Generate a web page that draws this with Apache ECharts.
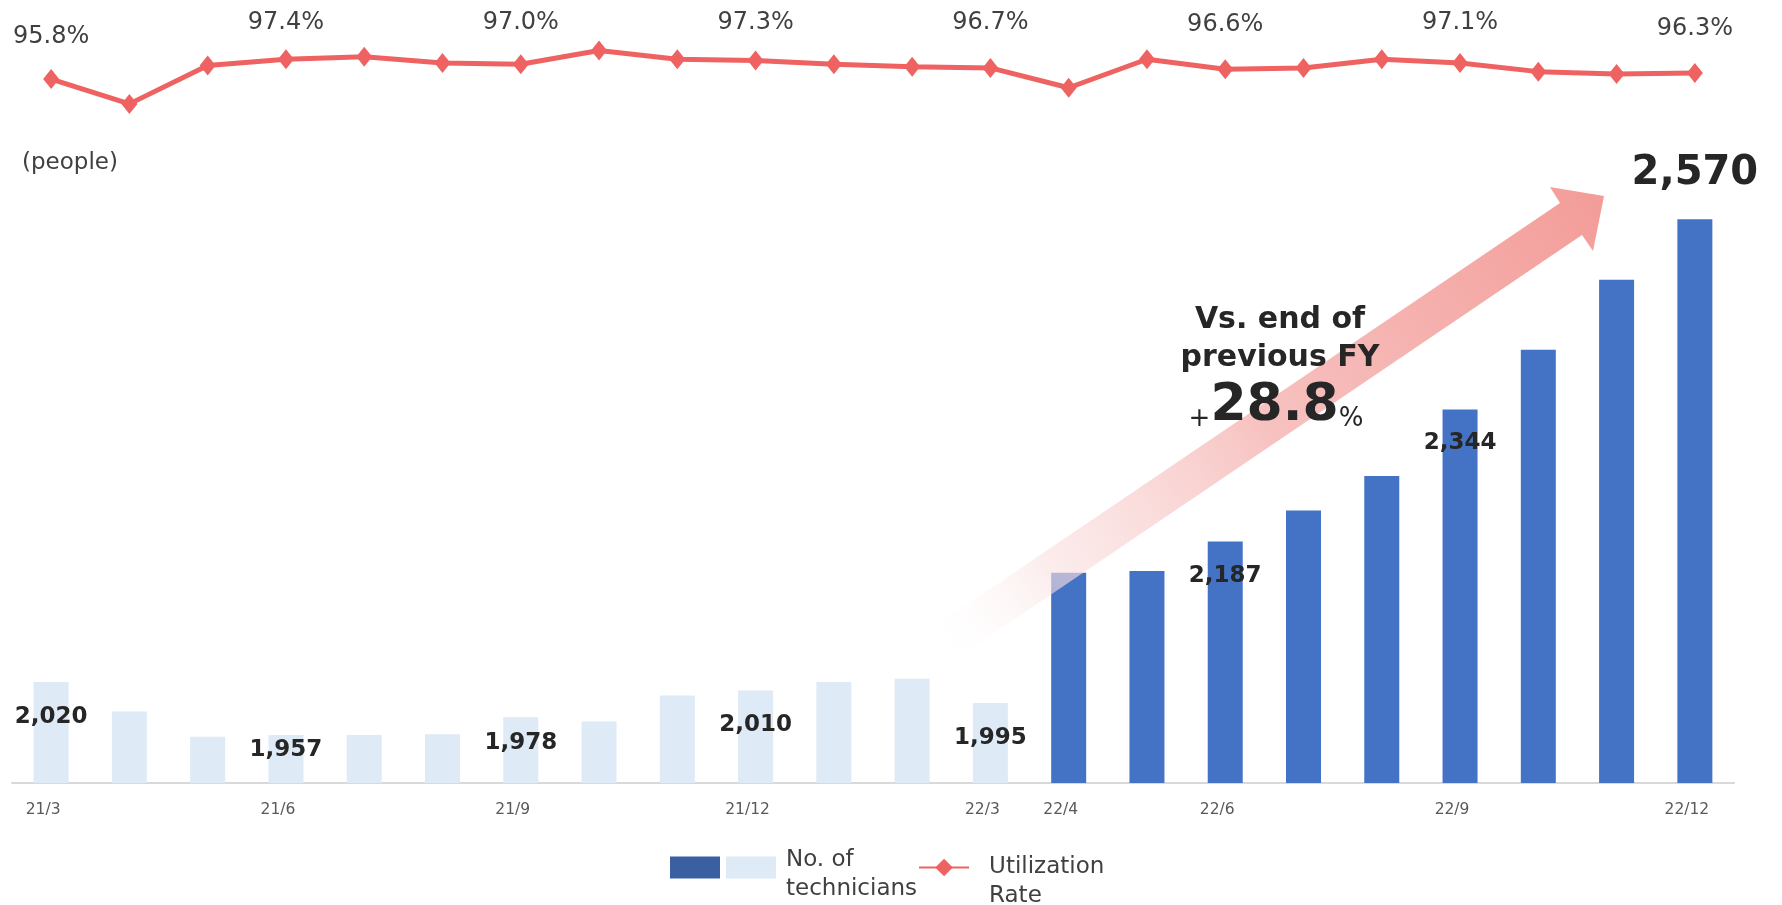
<!DOCTYPE html>
<html>
<head>
<meta charset="utf-8">
<script src="https://cdn.jsdelivr.net/npm/echarts@6/dist/echarts.min.js"></script>
<style>
html,body{margin:0;padding:0;background:#fff;}
#chart{width:1782px;height:905px;}
</style>
</head>
<body>
<div id="chart"></div>
<script>
// ---- data ----
const categories = ['21/3','21/4','21/5','21/6','21/7','21/8','21/9','21/10','21/11','21/12','22/1','22/2','22/3',
                    '22/4','22/5','22/6','22/7','22/8','22/9','22/10','22/11','22/12'];
const technicians = [2020,1985,1955,1957,1957,1958,1978,1973,2004,2010,2020,2024,1995,
                     2150,2152,2187,2224,2265,2344,2415,2498,2570];
const utilization = [95.8,93.8,96.9,97.4,97.6,97.1,97.0,98.1,97.4,97.3,97.0,96.8,96.7,
                     95.1,97.4,96.6,96.7,97.4,97.1,96.4,96.2,96.3];
const tickLabels = ['21/3','21/6','21/9','21/12','22/3','22/4','22/6','22/9','22/12'];
const currentFYStart = '22/4';
const seriesNames = ['No. of technicians (FY22)', 'No. of\ntechnicians', 'Utilization\nRate'];
const unitLabel = '(people)';
const noteLines = ['Vs. end of', 'previous FY'];
const growthValue = '28.8';

// ---- styling helpers (not data) ----
const FONT = 'DejaVu Sans';
const fyIdx = categories.indexOf(currentFYStart);
const lastIdx = categories.length - 1;
const isLabelled = i => i % 3 === 0;
const barLabelDist = {0:24, 3:3.5, 6:14.5, 9:23, 12:23, 15:23, 18:22};
const lineLabelDist = {0:20.7, 3:14.5, 6:19, 9:16, 12:23.3, 15:22, 18:18, 21:21.8};
const fmt = v => Number(v).toLocaleString('en-US');

function barItem(v, i) {
  const item = {value: v};
  if (!isLabelled(i)) { item.label = {show:false}; return item; }
  if (i === lastIdx) {
    item.label = {show:true, position:'top', distance:26, fontSize:40, lineHeight:40};
  } else {
    item.label = {show:true, position:'insideTop', distance: barLabelDist[i]};
  }
  return item;
}

const lightData = technicians.map((v,i) => i < fyIdx ? barItem(v,i) : '-');
const darkData  = technicians.map((v,i) => i >= fyIdx ? barItem(v,i) : '-');
const lineData  = utilization.map((v,i) => isLabelled(i)
  ? {value:v, label:{show:true, distance: lineLabelDist[i]}}
  : {value:v, label:{show:false}});

const barLabel = {
  show:false, color:'#262626', fontFamily:FONT, fontWeight:'bold', fontSize:23, lineHeight:23,
  formatter: p => fmt(p.value)
};

const chart = echarts.init(document.getElementById('chart'), null, {renderer:'canvas'});

// arrow geometry (decoration)
const tail = [930, 653], tip = [1604, 196];
const arrowPts = [
  [919, 637], [1560, 203], [1550, 187], [1604, 196], [1593, 251], [1582, 235], [941, 669]
];

// legend text: spacer line shifts the two text lines relative to the icon
function legendText(name) {
  if (name === seriesNames[0]) return '';
  const spacer = name === seriesNames[2] ? 'e2' : 'e1';
  return '{' + spacer + '| }\n' + name.split('\n').map(s => '{t|' + s + '}').join('\n');
}

const option = {
  backgroundColor:'#ffffff',
  animation:false,
  grid:[
    {left:12, right:48, top:27, height:124},
    {left:12, right:48, top:194, bottom:122}
  ],
  xAxis:[
    {type:'category', gridIndex:0, data:categories, show:false, boundaryGap:true},
    {type:'category', gridIndex:1, data:categories, boundaryGap:true,
     axisLine:{show:true, lineStyle:{color:'#D9D9D9', width:2}},
     axisTick:{show:false},
     axisLabel:{
       interval:(idx, val) => tickLabels.includes(val),
       color:'#595959', fontFamily:FONT, fontSize:15.5, margin:19,
       padding:[0,16,0,0]
     }}
  ],
  yAxis:[
    {type:'value', gridIndex:0, min:90, max:100, show:false},
    {type:'value', gridIndex:1, min:1900, max:2600, show:false}
  ],
  legend:{
    left:665, top:819, orient:'horizontal',
    itemWidth:50, itemHeight:22, itemGap:1,
    textStyle:{
      color:'#404040', fontFamily:FONT, fontSize:23, lineHeight:29,
      rich:{
        e1:{fontSize:1, lineHeight:15},
        e2:{fontSize:1, lineHeight:29},
        t:{color:'#404040', fontFamily:FONT, fontSize:23, lineHeight:29}
      }
    },
    formatter: legendText,
    data:[
      {name:seriesNames[0], icon:'rect', itemStyle:{color:'#3A60A2'}},
      {name:seriesNames[1], icon:'rect', textStyle:{padding:[0,0,0,5]}},
      {name:seriesNames[2], textStyle:{padding:[0,0,0,15]}}
    ]
  },
  series:[
    {
      name:seriesNames[1], type:'bar', xAxisIndex:1, yAxisIndex:1,
      data:lightData, barWidth:35, barGap:'-100%',
      itemStyle:{color:'#DEEAF6'}, label:barLabel, z:2
    },
    {
      name:seriesNames[0], type:'bar', xAxisIndex:1, yAxisIndex:1,
      data:darkData, barWidth:35, barGap:'-100%',
      itemStyle:{color:'#4472C4'}, label:barLabel, z:2
    },
    {
      name:seriesNames[2], type:'line', xAxisIndex:0, yAxisIndex:0,
      data:lineData, symbol:'diamond', symbolSize:[16,20],
      lineStyle:{color:'#EF6262', width:5}, itemStyle:{color:'#EF6262'},
      label:{show:false, position:'top', color:'#404040', fontFamily:FONT, fontSize:24, lineHeight:24,
             formatter: p => Number(p.value).toFixed(1) + '%'}
    }
  ],
  graphic:[
    {
      type:'polygon', z:50, silent:true,
      shape:{points:arrowPts},
      style:{
        fill:new echarts.graphic.LinearGradient(tail[0], tail[1], tip[0], tip[1], [
          {offset:0, color:'rgba(255,255,255,0)'},
          {offset:0.18, color:'rgba(250,225,225,0.62)'},
          {offset:0.5, color:'rgba(246,188,186,0.92)'},
          {offset:1, color:'rgba(243,156,152,1)'}
        ], true)
      }
    },
    {
      type:'text', z:60, silent:true, x:1280, y:339,
      style:{
        text:noteLines.join('\n'), fill:'#262626', fontFamily:FONT, fontWeight:'bold',
        fontSize:30, lineHeight:38, align:'center', verticalAlign:'middle'
      }
    },
    {
      type:'text', z:60, silent:true, x:1276, y:432,
      style:{
        text:'{s|+}{b|' + growthValue + '}{s|%}', align:'center', verticalAlign:'bottom',
        fill:'#262626', fontFamily:FONT,
        rich:{
          s:{fontSize:26, lineHeight:37, verticalAlign:'bottom', fill:'#262626', fontFamily:FONT},
          b:{fontSize:52, lineHeight:52, verticalAlign:'bottom', fontWeight:'bold', fill:'#262626', fontFamily:FONT}
        }
      }
    },
    {
      type:'text', z:60, silent:true, x:22, y:163,
      style:{text:unitLabel, fill:'#404040', fontFamily:FONT, fontSize:23, align:'left', verticalAlign:'middle'}
    }
  ]
};
chart.setOption(option);
</script>
</body>
</html>
